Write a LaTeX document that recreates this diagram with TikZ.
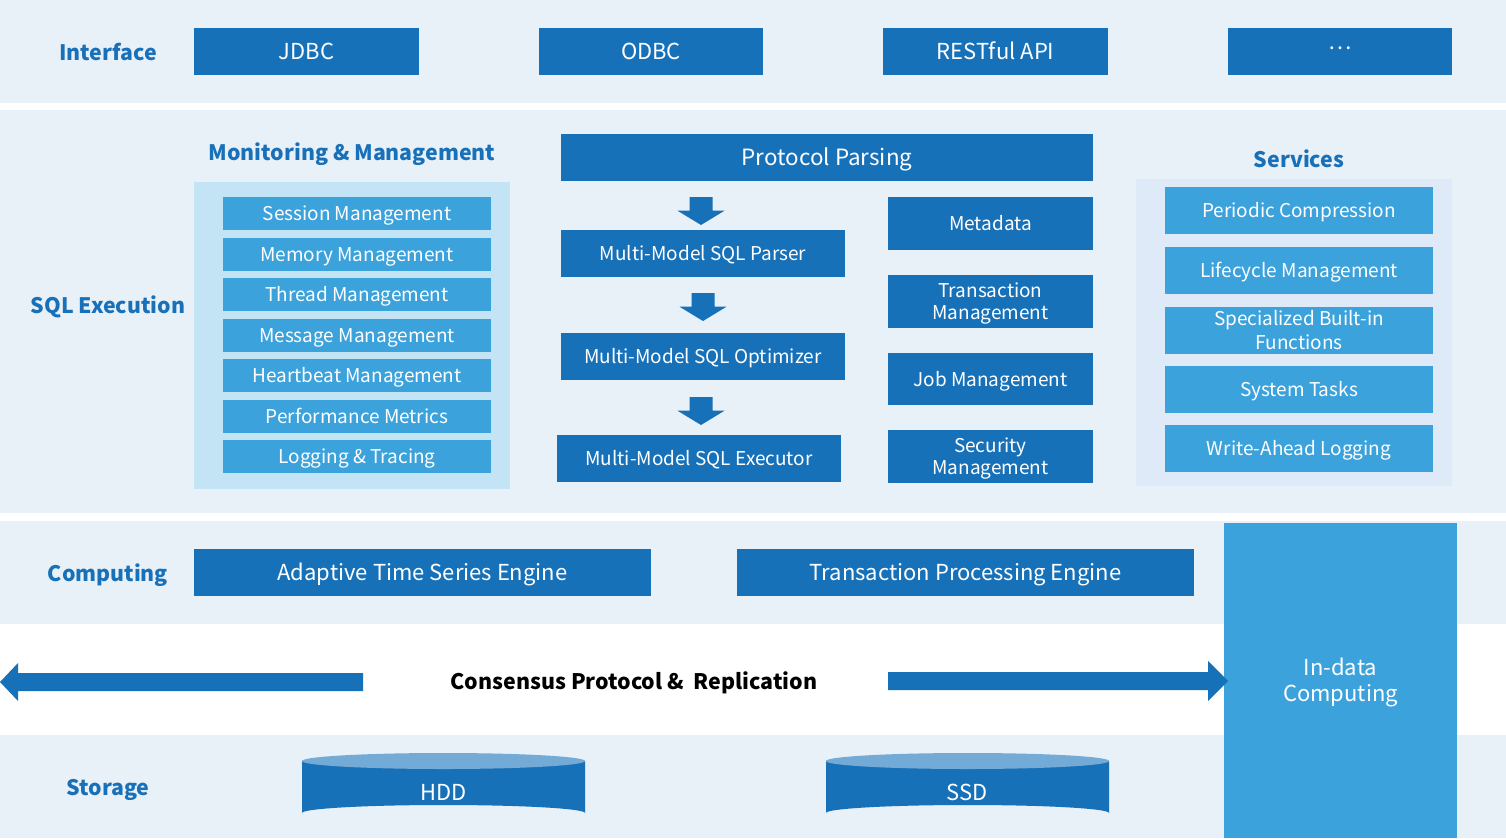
\documentclass[tikz,border=0pt]{standalone}
\usepackage{fontspec}
\setmainfont{Noto Sans CJK SC}
\begin{document}
\begin{tikzpicture}[x=1pt,y=-1pt,
  every node/.style={inner sep=0pt,outer sep=0pt,align=center},
  dbox/.style={rectangle,fill=dblue,text=white,minimum height=47pt},
  lbox/.style={rectangle,fill=lblue,text=white},
  lab/.style={text=tblue,font=\fontsize{21.3}{26}\selectfont\bfseries,text height=19.6pt,text depth=3.9pt},
  fs22/.style={font=\fontsize{22}{26}\selectfont,text height=20.2pt,text depth=4pt},
  fs19/.style={font=\fontsize{19}{24}\selectfont,text height=17.6pt,text depth=3.6pt},
  ml19/.style={text=white,font=\fontsize{19}{22.5}\selectfont,align=center},
  ml22/.style={text=white,font=\fontsize{22}{26}\selectfont,align=center}]
\definecolor{dblue}{RGB}{23,113,185}
\definecolor{lblue}{RGB}{60,162,220}
\definecolor{band}{RGB}{232,240,248}
\definecolor{monpanel}{RGB}{194,228,244}
\definecolor{svcpanel}{RGB}{222,234,248}
\definecolor{cyltop}{RGB}{116,170,214}
\definecolor{tblue}{RGB}{24,112,184}
\useasboundingbox (0,0) rectangle (1506,838);
% bands
\fill[white] (0,0) rectangle (1506,838);
\fill[band] (0,0) rectangle (1506,103);
\fill[band] (0,110) rectangle (1506,513);
\fill[band] (0,521) rectangle (1506,624);
\fill[band] (0,735) rectangle (1506,838);
% row labels
\node[lab] (lInterface) at (108,53) {Interface};
\node[lab] (lSQL) at (108,306) {SQL Execution};
\node[lab] (lComp) at (108,573.5) {Computing};
\node[lab] (lStor) at (108,788) {Storage};
% interface
\node[dbox,fs22,minimum width=225pt] (jdbc) at (306.5,51.5) {JDBC};
\node[dbox,fs22,minimum width=224pt] (odbc) at (651,51.5) {ODBC};
\node[dbox,fs22,minimum width=225pt] (rest) at (995.5,51.5) {RESTful API};
\node[dbox,fs22,minimum width=224pt] (more) at (1340,51.5) {\raisebox{10pt}{…}};
% monitoring
\node[lab] (lMon) at (352,152.5) {Monitoring \& Management};
\fill[monpanel] (194,182) rectangle (510,489);
\foreach \n/\t/\y in {m1/Session Management/213.5, m2/Memory Management/254, m3/Thread Management/294.5, m4/Message Management/335, m5/Heartbeat Management/375.5, m6/Performance Metrics/416, m7/Logging \& Tracing/456.5}
  \node[lbox,fs19,minimum width=268pt,minimum height=33pt] (\n) at (357,\y) {\t};
% center
\node[dbox,font=\fontsize{22.4}{26}\selectfont,text height=20.5pt,text depth=4pt,minimum width=532pt] (pp) at (827,157.5) {Protocol Parsing};
\node[dbox,fs19,minimum width=284pt] (parser) at (703,253.5) {Multi-Model SQL Parser};
\node[dbox,fs19,minimum width=284pt] (opt) at (703,356.5) {Multi-Model SQL Optimizer};
\node[dbox,fs19,minimum width=284pt] (exec) at (699,458.5) {Multi-Model SQL Executor};
\foreach \x/\y in {701/197, 703/293, 701/397}
  \fill[dblue,shift={(\x,\y)}] (-11.5,0) -- (11.5,0) -- (11.5,13.7) -- (23.5,13.7) -- (0,28) -- (-23.5,13.7) -- (-11.5,13.7) -- cycle;
\node[dbox,fs19,minimum width=205pt,minimum height=53pt] (meta) at (990.5,223.5) {Metadata};
\node[dbox,minimum width=205pt,minimum height=53pt,label={[ml19,yshift=-2pt]center:Transaction\\Management}] (txn) at (990.5,301.5) {};
\node[dbox,fs19,minimum width=205pt,minimum height=52pt] (job) at (990.5,379) {Job Management};
\node[dbox,minimum width=205pt,minimum height=53pt,label={[ml19,yshift=-2pt]center:Security\\Management}] (sec) at (990.5,456.5) {};
% services
\node[lab] (lSvc) at (1299,160) {Services};
\fill[svcpanel] (1136,179) rectangle (1452,486);
\foreach \n/\t/\y in {s1/Periodic Compression/210.5, s2/Lifecycle Management/270.5, s4/System Tasks/389.5, s5/Write-Ahead Logging/448.5}
  \node[lbox,fs19,minimum width=268pt,minimum height=47pt] (\n) at (1299,\y) {\t};
\node[lbox,minimum width=268pt,minimum height=47pt,label={[ml19,font=\fontsize{19}{23.3}\selectfont]center:Specialized Built-in\\Functions}] (s3) at (1299,330) {};
% computing
\node[dbox,fs22,minimum width=457pt] (ats) at (422.5,572.5) {Adaptive Time Series Engine};
\node[dbox,fs22,minimum width=457pt] (tpe) at (965.5,572.5) {Transaction Processing Engine};
\node[lbox,minimum width=233pt,minimum height=315pt,label={[ml22,yshift=-2pt]center:In-data\\Computing}] (idc) at (1340.5,680.5) {};
% consensus
\node[font=\fontsize{21.4}{26}\selectfont\bfseries,text=black,text height=19.6pt,text depth=3.9pt] (cons) at (634,682) {Consensus Protocol \&\ \ Replication};
\coordinate (lt) at (0,682);
\coordinate (rt) at (1228,681);
\fill[dblue] (lt) -- (18,663) -- (18,673) -- (363,673) -- (363,691) -- (18,691) -- (18,701) -- cycle;
\fill[dblue] (rt) -- (1208,661) -- (1208,672) -- (888,672) -- (888,690) -- (1208,690) -- (1208,701) -- cycle;
% cylinders
\foreach \n/\t/\cx in {hdd/HDD/443.5, ssd/SSD/967.5}{
  \fill[dblue] (\cx-141.5,761) -- (\cx-141.5,813) arc[start angle=180,end angle=360,x radius=141.5,y radius=8] -- (\cx+141.5,761) -- cycle;
  \fill[cyltop] (\cx,761) ellipse[x radius=141.5,y radius=8];
  \node[text=white,fs22] (\n) at (\cx,792) {\t};
}
\end{tikzpicture}
\end{document}
